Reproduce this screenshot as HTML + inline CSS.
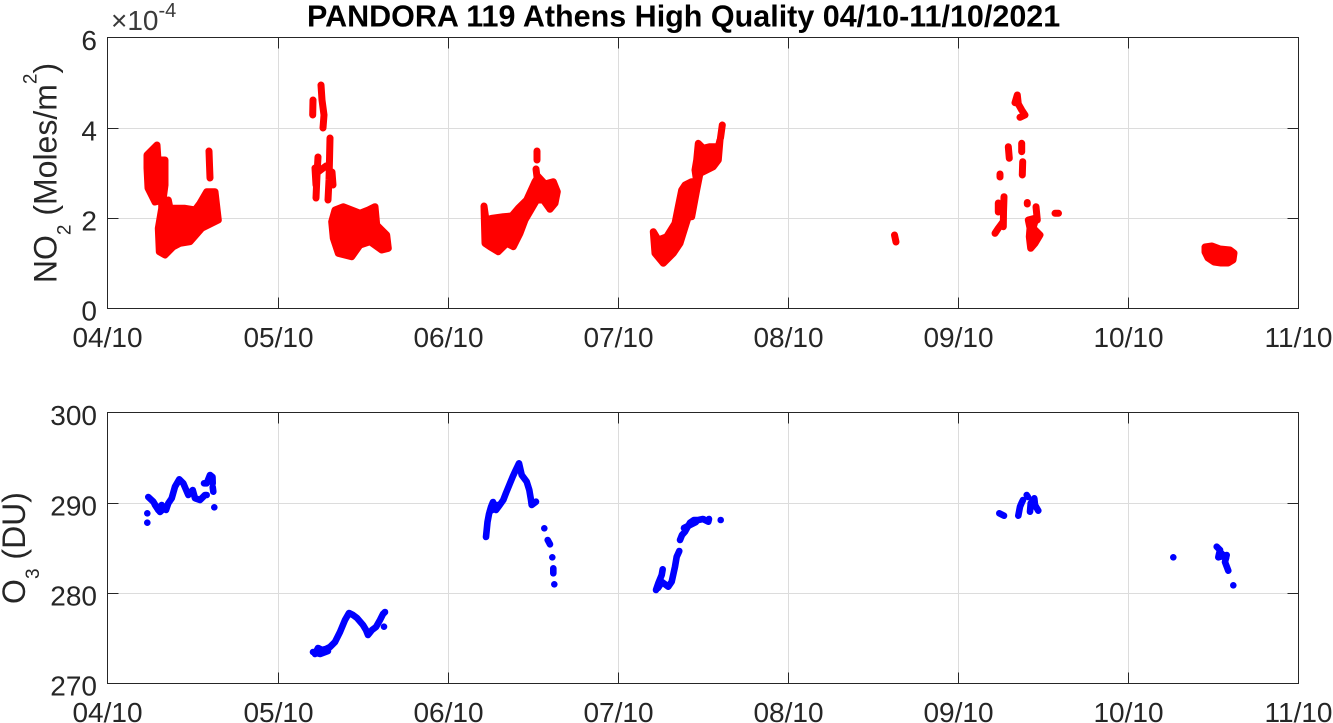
<!DOCTYPE html>
<html>
<head>
<meta charset="utf-8">
<style>
html,body{margin:0;padding:0;background:#fff;}
svg{display:block;}
text{font-family:"Liberation Sans",Arial,sans-serif;white-space:pre;}
.ax{fill:none;stroke:#262626;stroke-width:1;}
.gr{stroke:#dcdcdc;stroke-width:1;}
.r{fill:#ff0000;stroke:#ff0000;stroke-width:7;stroke-linejoin:round;stroke-linecap:round;}
.rl{fill:none;stroke:#ff0000;stroke-width:7;stroke-linejoin:round;stroke-linecap:round;}
.bl{fill:none;stroke:#0000ff;stroke-width:6.6;stroke-linejoin:round;stroke-linecap:round;}
.b{fill:#0000ff;}
.tl{font-size:28px;fill:#262626;}
</style>
</head>
<body>
<svg width="1333" height="723" viewBox="0 0 1333 723" xmlns="http://www.w3.org/2000/svg">
<rect x="0" y="0" width="1333" height="723" fill="#fff"/>

<!-- ================= TOP AXES ================= -->
<g class="gr">
  <line x1="278.5" y1="37.5" x2="278.5" y2="308.5"/>
  <line x1="448.5" y1="37.5" x2="448.5" y2="308.5"/>
  <line x1="618.5" y1="37.5" x2="618.5" y2="308.5"/>
  <line x1="788.5" y1="37.5" x2="788.5" y2="308.5"/>
  <line x1="958.5" y1="37.5" x2="958.5" y2="308.5"/>
  <line x1="1128.5" y1="37.5" x2="1128.5" y2="308.5"/>
  <line x1="107.5" y1="128.5" x2="1298.5" y2="128.5"/>
  <line x1="107.5" y1="218.5" x2="1298.5" y2="218.5"/>
</g>

<!-- red data -->
<g>
  <!-- day 1 -->
  <polygon class="r" points="147,155 157,145 158,160 165,160 165,185 163,200 155,202 148,188 147,168"/>
  <polygon class="r" points="161.7,201.7 168.3,200 170,208.3 185,208.3 195,210 200,203.3 206.7,191.7 215,191.7 218.3,220 201.7,228.3 190,241.7 180,243.3 173.3,246.7 165,255 159.3,251.7 158.3,228.3 161.7,208.3"/>
  <polyline class="rl" points="209,151 209.5,165 210,178"/>
  <!-- day 2 -->
  <polyline class="rl" points="321,85 322,100 324,115 323,128"/>
  <polyline class="rl" points="313,100 312.7,115"/>
  <polyline class="rl" points="318,157 317,175 316,198"/>
  <polyline class="rl" points="315,168 316,185"/>
  <polyline class="rl" points="330,138 329.5,160 329,180 328,200"/>
  <polyline class="rl" points="332,172 333,185"/>
  <polyline class="rl" points="318,172 326,166"/>
  <polygon class="r" points="335,210 343.3,206.7 360,213.3 368.3,210 375,206.7 376.7,225 386.7,235 388.3,248.3 381.7,250 370,241.7 360,245 351.7,256.7 338.3,253.3 333.3,238.3 331.7,221.7"/>
  <!-- day 3 -->
  <polygon class="r" points="484,206 486,220 491.7,218.3 503.3,216.7 511.7,216 518.3,208.3 526.7,200 535,181.7 538.3,176.7 545,184 553.3,181.7 557.3,191.7 555,203.3 550,209.3 543.3,200 536.7,200 525,220 520,233.3 513.3,246.7 506.7,243.3 498.3,251.7 490,246.7 485,243.3"/>
  <polyline class="rl" points="537,151 537,160"/>
  <polyline class="rl" points="536,169 537,177"/>
  <!-- day 4 -->
  <polygon class="r" points="653.3,231.7 658.3,240 666.7,236.7 675,223.3 678.3,206.7 681.7,190 685,185 691.7,181.7 696.7,181.7 695,170 696.7,160 698.3,143.3 703.3,148.3 710,146.7 718.3,146.7 720,140 718.3,160 713.3,166.7 703.3,171.7 700,173.3 696.7,190 691.7,216.7 688.3,216.7 680,243.3 673.3,253.3 663.3,263.3 655,253.3"/>
  <polyline class="rl" points="720.5,138 722.3,125"/>
  <!-- day 5 -->
  <polyline class="rl" points="894.5,235 896,242"/>
  <!-- day 6 -->
  <polyline class="rl" points="1015,102.7 1017.3,95 1018.3,104 1021.7,110 1025,115 1020,117.3"/>
  <polyline class="rl" points="1008.3,146.7 1009.3,158.3"/>
  <polyline class="rl" points="1021.7,143.3 1021.7,151.7"/>
  <polyline class="rl" points="1022.7,161.7 1022.3,175"/>
  <polyline class="rl" points="1000,174 1000,177"/>
  <polyline class="rl" points="1004,196.7 1003.5,212 1003.3,226.7"/>
  <polyline class="rl" points="998.3,203 998.3,212"/>
  <polyline class="rl" points="995,233.3 998.3,228.3 1003,222"/>
  <polyline class="rl" points="1027.3,202.5 1027.3,204"/>
  <polyline class="rl" points="1036,206.7 1037.3,220"/>
  <polygon class="r" points="1028.3,220 1036,218 1033,228 1040,235 1035,243.3 1030.7,248.3 1029.3,236.7 1030,228"/>
  <polyline class="rl" points="1055,213.3 1058.5,213.3"/>
  <!-- day 7 -->
  <polygon class="r" points="1205,247 1212,246 1220,249 1230,250 1234,253 1233,260 1228,263 1221,263 1214,262 1208,258 1205,252"/>
</g>

<!-- box & ticks -->
<rect class="ax" x="107.5" y="37.5" width="1191" height="271"/>
<g class="ax">
  <path d="M278.5 308.5V297.5M448.5 308.5V297.5M618.5 308.5V297.5M788.5 308.5V297.5M958.5 308.5V297.5M1128.5 308.5V297.5"/>
  <path d="M278.5 37.5V48.5M448.5 37.5V48.5M618.5 37.5V48.5M788.5 37.5V48.5M958.5 37.5V48.5M1128.5 37.5V48.5"/>
  <path d="M107.5 128.5H118.5M107.5 218.5H118.5M1298.5 128.5H1287.5M1298.5 218.5H1287.5"/>
</g>

<!-- top tick labels -->
<g class="tl" text-anchor="end">
  <text x="97" y="50">6</text>
  <text x="97" y="140.5">4</text>
  <text x="97" y="230.5">2</text>
  <text x="97" y="320.5">0</text>
</g>
<g class="tl" text-anchor="middle">
  <text x="107.5" y="347">04/10</text>
  <text x="278.5" y="347">05/10</text>
  <text x="448.5" y="347">06/10</text>
  <text x="618.5" y="347">07/10</text>
  <text x="788.5" y="347">08/10</text>
  <text x="958.5" y="347">09/10</text>
  <text x="1128.5" y="347">10/10</text>
  <text x="1298.5" y="347">11/10</text>
</g>
<text x="111" y="30" font-size="28" fill="#3a3a3a">×10<tspan font-size="20" dy="-13">-4</tspan></text>

<text transform="translate(56.5,173) rotate(-90)" text-anchor="middle" font-size="32" fill="#262626">NO<tspan font-size="19" dy="14">2</tspan><tspan font-size="32" dy="-14"> (Moles/m</tspan><tspan font-size="19" dy="-20">2</tspan><tspan font-size="32" dy="20">)</tspan></text>

<text x="307" y="26.5" font-size="30.5" font-weight="bold" fill="#000">PANDORA 119 Athens High Quality 04/10-11/10/2021</text>

<!-- ================= BOTTOM AXES ================= -->
<g class="gr">
  <line x1="278.5" y1="412.5" x2="278.5" y2="683.5"/>
  <line x1="448.5" y1="412.5" x2="448.5" y2="683.5"/>
  <line x1="618.5" y1="412.5" x2="618.5" y2="683.5"/>
  <line x1="788.5" y1="412.5" x2="788.5" y2="683.5"/>
  <line x1="958.5" y1="412.5" x2="958.5" y2="683.5"/>
  <line x1="1128.5" y1="412.5" x2="1128.5" y2="683.5"/>
  <line x1="107.5" y1="503.5" x2="1298.5" y2="503.5"/>
  <line x1="107.5" y1="593.5" x2="1298.5" y2="593.5"/>
</g>

<!-- blue data -->
<g>
  <!-- day 1 -->
  <polyline class="bl" points="148.3,497 153.3,501.7 158.3,510 161.7,505 166,510 168.3,503.3 171.7,498.3 175,486.7 179.3,479.3 183.3,483.3 188.3,495 192.7,490 195,498.3 200,500 205,495 206.7,495"/>
  <polyline class="bl" points="155,505 160,512 164,508"/>
  <polyline class="bl" points="204,483.3 206.7,483.3 210,475 212.5,477 212.7,483.3"/>
  <polyline class="bl" points="212.7,487 213.3,491.7"/>
  <circle class="b" cx="214.3" cy="507.3" r="3.3"/>
  <circle class="b" cx="147.3" cy="513.3" r="3.3"/>
  <circle class="b" cx="147.3" cy="522.7" r="3.3"/>
  <!-- day 2 -->
  <polyline class="bl" points="315,654 318,648 322,650 326,649 330,647 335,642 340,632 345,620 349,613 353,615 357,618 363,625 366,630 368,635 372,630 376,627 380,620 383,614 385,612"/>
  <polyline class="bl" points="313,652 320,654 328,651"/>
  <circle class="b" cx="384" cy="626.7" r="3.3"/>
  <!-- day 3 -->
  <polyline class="bl" points="486,537 487.5,522 489,514 491,507 493,502 496,510 499,506 503.3,500 506,493 510,483.3 513,476 515,471.7 519,463.3 521.7,475 526.7,481.7 529.3,490 531,500 531.7,505 536,501.7"/>
  <polyline class="bl" points="490,511 494,509 497,505"/>
  <circle class="b" cx="544.3" cy="528.3" r="3.3"/>
  <polyline class="bl" points="547.7,540 550,544.3"/>
  <circle class="b" cx="552.3" cy="557.3" r="3.3"/>
  <polyline class="bl" points="553.3,568.3 553.3,573.3"/>
  <circle class="b" cx="554.3" cy="584.3" r="3.3"/>
  <!-- day 4 -->
  <polyline class="bl" points="656,590 658.3,583.3 661.7,575 662.7,569.3"/>
  <polyline class="bl" points="658,588 662,582 668.3,586.7 671.7,581.7 675,566.7 676.7,556.7 679.3,551"/>
  <polyline class="bl" points="680,540 682,535 685,531.7 690,522.7 694,520 698.3,520 703,519 708.3,521.7 709,519"/>
  <polyline class="bl" points="684,528 690,525 696,522"/>
  <circle class="b" cx="720.7" cy="520" r="3.3"/>
  <!-- day 6 -->
  <polyline class="bl" points="999.3,513.3 1004,515.7"/>
  <polyline class="bl" points="1018.3,515.7 1020,506.7 1021.7,502.7 1023,500"/>
  <polyline class="bl" points="1026.7,495 1028,497"/>
  <polyline class="bl" points="1030,511.7 1030.7,503.3 1034.3,498.3 1035,505 1038.3,510.7"/>
  <!-- day 7 -->
  <circle class="b" cx="1173.3" cy="557.3" r="3.3"/>
  <polyline class="bl" points="1216.7,546.7 1220,550 1218.3,557.3 1226.7,555 1225,562 1228.3,570.7"/>
  <polyline class="bl" points="1220,552 1226,558"/>
  <circle class="b" cx="1233.3" cy="585.3" r="3.3"/>
</g>

<!-- box & ticks -->
<rect class="ax" x="107.5" y="412.5" width="1191" height="271"/>
<g class="ax">
  <path d="M278.5 683.5V672.5M448.5 683.5V672.5M618.5 683.5V672.5M788.5 683.5V672.5M958.5 683.5V672.5M1128.5 683.5V672.5"/>
  <path d="M278.5 412.5V423.5M448.5 412.5V423.5M618.5 412.5V423.5M788.5 412.5V423.5M958.5 412.5V423.5M1128.5 412.5V423.5"/>
  <path d="M107.5 503.5H118.5M107.5 593.5H118.5M1298.5 503.5H1287.5M1298.5 593.5H1287.5"/>
</g>

<g class="tl" text-anchor="end">
  <text x="97" y="425">300</text>
  <text x="97" y="515.5">290</text>
  <text x="97" y="605.5">280</text>
  <text x="97" y="695.5">270</text>
</g>
<g class="tl" text-anchor="middle">
  <text x="107.5" y="722">04/10</text>
  <text x="278.5" y="722">05/10</text>
  <text x="448.5" y="722">06/10</text>
  <text x="618.5" y="722">07/10</text>
  <text x="788.5" y="722">08/10</text>
  <text x="958.5" y="722">09/10</text>
  <text x="1128.5" y="722">10/10</text>
  <text x="1298.5" y="722">11/10</text>
</g>

<text transform="translate(25,548) rotate(-90)" text-anchor="middle" font-size="32" fill="#262626">O<tspan font-size="19" dy="14">3</tspan><tspan font-size="32" dy="-14"> (DU)</tspan></text>
</svg>
</body>
</html>
